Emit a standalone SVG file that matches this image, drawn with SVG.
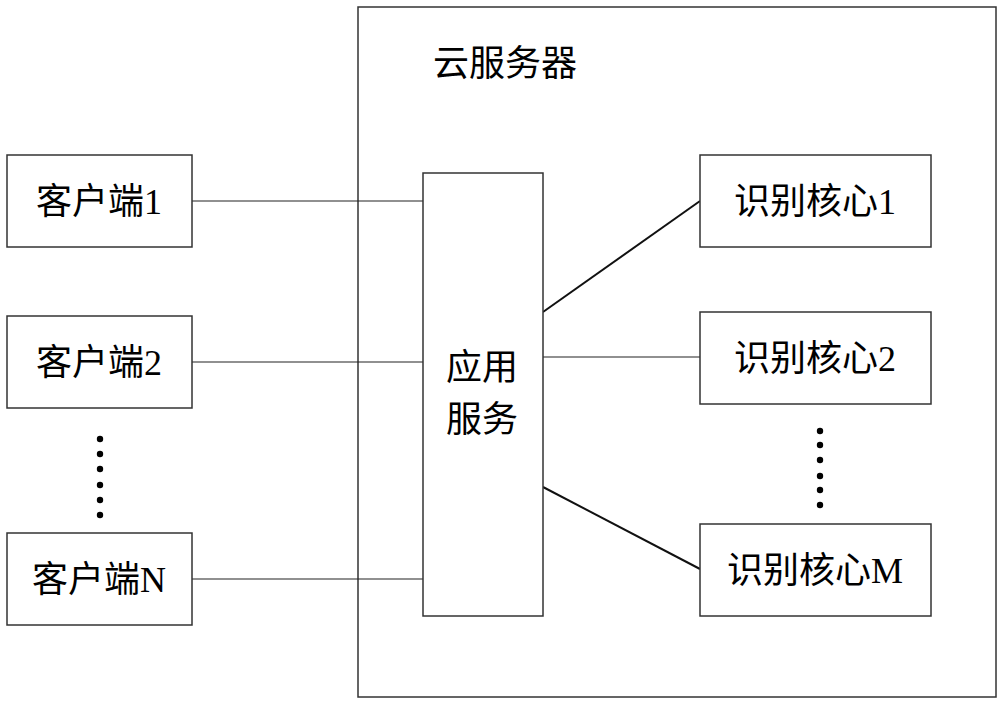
<svg xmlns="http://www.w3.org/2000/svg" width="1000" height="705" viewBox="0 0 1000 705">
<style>
.box{fill:#fff;stroke:#333;stroke-width:1.5}
.t{font-family:"Liberation Serif","Noto Sans CJK SC",serif;font-size:36px;fill:#000;text-anchor:middle}
.c{stroke:#222;stroke-width:1.2;fill:none}
.d{stroke:#111;stroke-width:2;fill:none}
.dot{fill:#000}
</style>
<rect width="1000" height="705" fill="#fff"/>
<g id="cloud">
<rect class="box" x="358" y="7" width="638" height="690"/>
<text class="t" x="505" y="76">云服务器</text>
</g>
<g id="connectors">
<line class="c" x1="192" y1="201" x2="423" y2="201"/>
<line class="c" x1="192" y1="362" x2="423" y2="362"/>
<line class="c" x1="192" y1="579" x2="423" y2="579"/>
<line class="d" x1="543" y1="312" x2="700" y2="201"/>
<line class="c" x1="543" y1="357" x2="700" y2="357"/>
<line class="d" x1="543" y1="487" x2="700" y2="569"/>
</g>
<g id="client1">
<rect class="box" x="7" y="155" width="185" height="92"/>
<text class="t" x="99" y="214">客户端1</text>
</g>
<g id="client2">
<rect class="box" x="7" y="316" width="185" height="92"/>
<text class="t" x="99" y="375">客户端2</text>
</g>
<g id="dotsLeft">
<circle class="dot" cx="100" cy="439" r="3.2"/>
<circle class="dot" cx="100" cy="454" r="3.2"/>
<circle class="dot" cx="100" cy="469" r="3.2"/>
<circle class="dot" cx="100" cy="485" r="3.2"/>
<circle class="dot" cx="100" cy="500" r="3.2"/>
<circle class="dot" cx="100" cy="515" r="3.2"/>
</g>
<g id="clientN">
<rect class="box" x="7" y="533" width="185" height="92"/>
<text class="t" x="99" y="592">客户端N</text>
</g>
<g id="appService">
<rect class="box" x="423" y="173" width="120" height="443"/>
<text class="t" x="482" y="380">应用</text>
<text class="t" x="482" y="432">服务</text>
</g>
<g id="core1">
<rect class="box" x="700" y="155" width="231" height="92"/>
<text class="t" x="815" y="214">识别核心1</text>
</g>
<g id="core2">
<rect class="box" x="700" y="312" width="231" height="92"/>
<text class="t" x="815" y="371">识别核心2</text>
</g>
<g id="dotsRight">
<circle class="dot" cx="820" cy="431" r="3.2"/>
<circle class="dot" cx="820" cy="445" r="3.2"/>
<circle class="dot" cx="820" cy="460" r="3.2"/>
<circle class="dot" cx="820" cy="476" r="3.2"/>
<circle class="dot" cx="820" cy="490" r="3.2"/>
<circle class="dot" cx="820" cy="505" r="3.2"/>
</g>
<g id="coreM">
<rect class="box" x="700" y="524" width="231" height="92"/>
<text class="t" x="815" y="583">识别核心M</text>
</g>
</svg>
